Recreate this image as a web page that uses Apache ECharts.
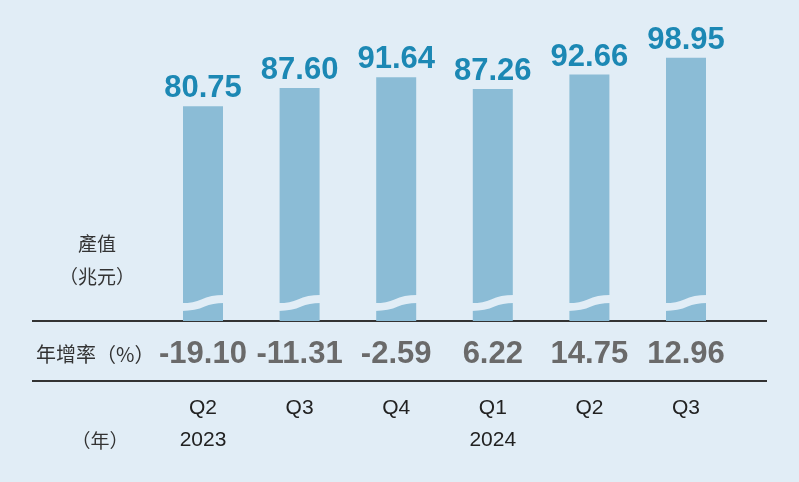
<!DOCTYPE html>
<html>
<head>
<meta charset="utf-8">
<script src="https://cdn.jsdelivr.net/npm/echarts@6/dist/echarts.min.js"></script>
<style>html,body{margin:0;padding:0;background:#e1edf6;}#c{width:799px;height:482px;}</style>
</head>
<body>
<div id="c"></div>
<script>
var quarters = ['Q2', 'Q3', 'Q4', 'Q1', 'Q2', 'Q3'];
var years = ['2023', '', '', '2024', '', ''];
var output = [80.75, 87.60, 91.64, 87.26, 92.66, 98.95];
var growth = [-19.10, -11.31, -2.59, 6.22, 14.75, 12.96];

var BG = '#e1edf6';
var BAR_W = 40;
var CJK = '"Noto Sans CJK TC", "Noto Sans CJK SC", sans-serif';

var catLabels = quarters.map(function (q, i) { return years[i] ? q + '\n' + years[i] : q; });
var growthLabels = growth.map(function (v) { return v.toFixed(2); });

var chart = echarts.init(document.getElementById('c'), null, { renderer: 'canvas' });
chart.setOption({
  backgroundColor: BG,
  animation: false,
  grid: { left: 154.7, right: 64.7, top: 55, bottom: 161 },
  xAxis: [{
    type: 'category', data: catLabels, position: 'bottom',
    axisLine: { show: false }, axisTick: { show: false },
    axisLabel: { interval: 0, margin: 71, fontFamily: 'Liberation Sans, Arial, sans-serif', fontSize: 21, lineHeight: 32, color: '#222' }
  }, {
    type: 'category', data: growthLabels, position: 'bottom', offset: 0,
    axisLine: { show: false }, axisTick: { show: false },
    axisLabel: { interval: 0, margin: 18, fontFamily: 'Liberation Sans, Arial, sans-serif', fontWeight: 'bold', fontSize: 31, lineHeight: 31, color: '#6a6a6a' }
  }],
  yAxis: { type: 'value', min: 0, max: 100, show: false, splitLine: { show: false } },
  series: [{
    type: 'bar', data: output, barWidth: BAR_W,
    itemStyle: { color: '#8bbcd6' },
    label: { show: true, position: 'top', distance: 2, formatter: function (p) { return p.value.toFixed(2); },
      fontFamily: 'Liberation Sans, Arial, sans-serif', fontWeight: 'bold', fontSize: 31, lineHeight: 31, color: '#1c88b4' }
  }, {
    type: 'custom', z: 5,
    data: output.map(function (v, i) { return [i, v]; }),
    renderItem: function (params, api) {
      var base = api.coord([api.value(0), 0]);
      var half = BAR_W / 2 + 1;
      var x0 = base[0] - half, x1 = base[0] + half;
      var yL = base[1] - 14, yR = base[1] - 22;
      return {
        type: 'bezierCurve',
        shape: { x1: x0, y1: yL, x2: x1, y2: yR, cpx1: base[0] + 4, cpy1: yL, cpx2: base[0] - 4, cpy2: yR },
        style: { stroke: BG, lineWidth: 8, fill: null }
      };
    }
  }],
  graphic: [
    { type: 'line', shape: { x1: 32, y1: 321, x2: 767, y2: 321 }, style: { stroke: '#333', lineWidth: 2 } },
    { type: 'line', shape: { x1: 32, y1: 381, x2: 767, y2: 381 }, style: { stroke: '#333', lineWidth: 2 } },
    { type: 'text', x: 97, y: 244, style: { text: '產值', font: '19px ' + CJK, fill: '#333', align: 'center', verticalAlign: 'middle' } },
    { type: 'text', x: 97, y: 277, style: { text: '（兆元）', font: '19px ' + CJK, fill: '#333', align: 'center', verticalAlign: 'middle' } },
    { type: 'text', x: 36, y: 354, style: { text: '年增率（%）', font: '20px ' + CJK, fill: '#333', align: 'left', verticalAlign: 'middle' } },
    { type: 'text', x: 100, y: 441, style: { text: '（年）', font: '19px ' + CJK, fill: '#333', align: 'center', verticalAlign: 'middle' } }
  ]
});
</script>
</body>
</html>
